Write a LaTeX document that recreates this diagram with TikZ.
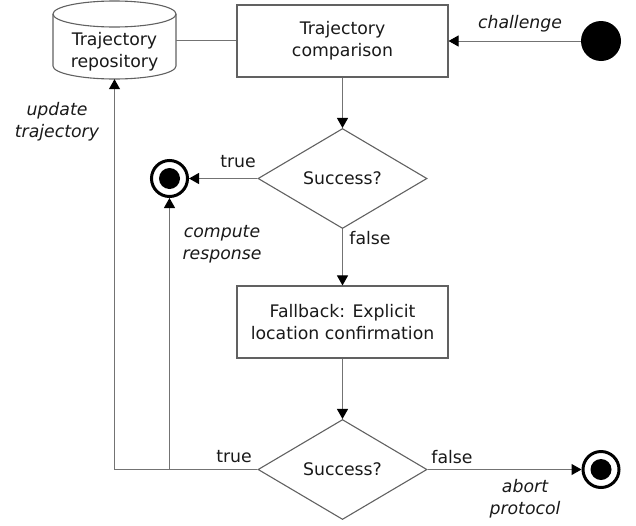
\documentclass[tikz,border=0pt]{standalone}
\usepackage{fontspec}
\setmainfont{DejaVu Sans}
\usetikzlibrary{shapes.geometric,arrows.meta}
\begin{document}
\begin{tikzpicture}[x=1pt,y=-1pt,
  every node/.style={font=\fontsize{17.3}{22}\selectfont, text=black!90},
  boxline/.style={draw=black!62, line width=1.1pt},
  procbox/.style={rectangle, boxline, minimum width=211pt, minimum height=72pt, align=center, inner sep=0pt},
  decision/.style={diamond, boxline, minimum width=169pt, minimum height=100pt, inner sep=0pt},
  conn/.style={draw=black!55, line width=1pt},
  arr/.style={conn, -{Triangle[length=10pt,width=11pt,fill=black,color=black]}},
  endnode/.style={circle, draw=black, line width=3pt, minimum size=36pt, inner sep=0pt},
  lbl/.style={align=center, inner sep=0pt},
  ilbl/.style={lbl, font=\fontsize{17.3}{22}\selectfont\itshape}
]
\useasboundingbox (0,0) rectangle (636,525);

% trajectory repository (cylinder)
\node[minimum width=123pt, minimum height=78pt, inner sep=0pt] (repo) at (114.5,40) {};
\draw[boxline, fill=white] (53,14) -- (53,66) arc[start angle=180,end angle=0,x radius=61.5,y radius=13] -- (176,14) arc[start angle=0,end angle=-180,x radius=61.5,y radius=13] -- cycle;
\draw[boxline] (53,14) arc[start angle=180,end angle=0,x radius=61.5,y radius=13];
\node[lbl] (repotext) at (114.5,52) {Trajectory\\repository};

% main nodes
\node[procbox] (comp) at (342.5,41) {Trajectory\\comparison};
\node[circle, fill=black, minimum size=40pt, inner sep=0pt] (start) at (601,41) {};
\node[decision] (d1) at (342.5,178.5) {Success?};
\node[endnode] (e1) at (169.5,178.5) {};
\fill (e1.center) circle (10.5);
\node[procbox] (fb) at (342.5,322) {Fallback: Explicit\\location confirmation};
\node[decision] (d2) at (342.5,469.5) {Success?};
\node[endnode] (e2) at (601,469.5) {};
\fill (e2.center) circle (10.5);

% connectors
\draw[conn] (repo.east) -- (comp.west |- repo.east);
\draw[arr] (start) -- (comp.east);
\draw[arr] (comp.south) -- (d1.north);
\draw[arr] (d1.west) -- (e1.east);
\draw[arr] (d1.south) -- (fb.north);
\draw[arr] (fb.south) -- (d2.north);
\draw[arr] (d2.east) -- (e2.west);
\draw[arr] (d2.west) -| (repo.south);
\coordinate (j1) at (e1 |- d2.west);
\draw[arr] (j1) -- (e1.south);

% labels
\node[ilbl] (lchal) at (520,24) {challenge};
\node[lbl] (lt1) at (238,162) {true};
\node[lbl] (lf1) at (370,238) {false};
\node[ilbl] (lupd) at (57,122) {update\\trajectory};
\node[ilbl] (lcomp) at (222,244) {compute\\response};
\node[lbl] (lt2) at (234,457) {true};
\node[lbl] (lf2) at (452,457) {false};
\node[ilbl] (labort) at (525,499) {abort\\protocol};
\end{tikzpicture}
\end{document}
